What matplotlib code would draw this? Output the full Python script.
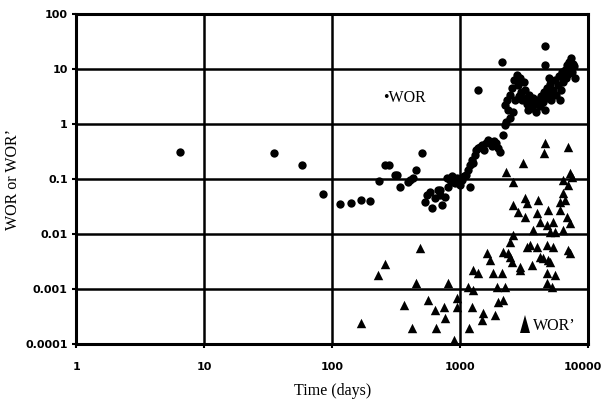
import matplotlib
matplotlib.use("Agg")
import matplotlib.pyplot as plt
import matplotlib.transforms as mtransforms
from matplotlib.markers import MarkerStyle
from matplotlib.ticker import FixedLocator, FixedFormatter, NullLocator

# WOR (circles)
wor_t = [6.5, 35, 58, 85, 115, 141, 169, 198,
         260, 280, 233, 310, 322, 340, 392, 407, 429, 450, 505,
         533, 552, 583, 604, 638, 673, 698, 698, 723, 763, 806, 882,
         791, 835, 866, 914, 948, 1000, 1037, 1075, 1114, 1155, 1197, 1197,
         1241, 1264, 1310, 1334, 1383, 1433, 1486, 1540, 1597, 1655, 1716,
         1778, 1843, 1911, 1981, 2054, 2168, 2247,
         4614, 2129, 4614, 4959, 1383, 2288, 2458,
         2247, 2329, 2371, 2458, 2548, 2641, 2689, 2787, 2838, 2942, 2995,
         3049, 3162, 3219, 3277, 3337, 3459, 3522, 3652, 3718, 3854, 3924,
         4068, 4217, 4294, 4451, 4532, 4698, 4783, 4959, 5049, 5140, 5329,
         5524, 5623, 5829, 5935, 6152, 6264, 6378, 6611, 6732, 6854, 6978,
         7105, 7234, 7365, 7499, 7635, 7774, 7915,
         2594, 2889, 3397, 4614, 6043]
wor_v = [0.31, 0.3, 0.18, 0.054, 0.035, 0.037, 0.042, 0.039,
         0.18, 0.18, 0.092, 0.12, 0.118, 0.072, 0.09, 0.096, 0.104, 0.146, 0.3,
         0.038, 0.051, 0.058, 0.03, 0.045, 0.063, 0.051, 0.063, 0.034, 0.047, 0.072, 0.088,
         0.104, 0.096, 0.113, 0.0845, 0.104, 0.078, 0.096, 0.113, 0.118, 0.146, 0.18, 0.0716,
         0.22, 0.195, 0.273, 0.337, 0.366, 0.38, 0.415, 0.337, 0.45, 0.51, 0.45,
         0.40, 0.49, 0.45, 0.366, 0.31, 0.63, 0.96,
         26.2, 13.4, 11.8, 6.9, 4.15, 1.09, 1.29,
         2.21, 2.73, 1.80, 3.37, 4.52, 6.3, 2.73, 7.8, 5.12, 6.86, 3.82,
         2.73, 5.8, 4.15, 2.97, 2.31, 3.37, 2.51, 1.95, 2.97, 2.31, 1.65,
         2.73, 2.12, 3.23, 2.51, 3.82, 2.97, 4.52, 3.51, 5.33, 2.73, 4.15,
         6.3, 3.37, 5.12, 7.46, 4.15, 8.8, 5.8, 9.6, 6.86, 11.8, 8.1,
         13.4, 10.4, 15.8, 8.8, 12.3, 11.3, 6.86,
         1.65, 3.23, 1.80, 1.80, 2.73]

# WOR' (triangles)
worp_t = [169, 229, 260, 365, 422, 453, 487, 563, 640, 650, 740, 760, 806, 898, 948, 948,
          1155, 1175, 1241, 1264, 1264, 1383, 1486, 1513, 1626, 1716, 1811, 1877, 1946,
          1981, 2129, 2168, 2247, 2371, 2548, 2942, 3522, 4451, 5049, 5524, 7234,
          4783, 4783, 5234,
          4614, 4532, 3105, 2288, 6978,
          7234, 6378, 2594, 7499, 6978, 6378, 6043, 6611, 6043, 6854, 7234, 6378,
          2594, 3219, 3337, 4068, 2838, 3219, 3995, 4870, 4217, 4783, 5329, 3718,
          5049, 5524,
          2594, 2458, 3337, 3995, 4783, 5329, 6978, 2168, 2458, 4217, 4870, 3652, 2942]
worp_v = [0.00024, 0.0018, 0.00285, 0.00051, 0.000195, 0.00129, 0.0056, 0.00063,
          0.000415, 0.000195, 0.00047, 0.000297, 0.00129, 0.000118, 0.00047, 0.00069,
          0.00109, 0.000195, 0.00047, 0.0022, 0.00096, 0.00195, 0.000273, 0.000366,
          0.0045, 0.00337, 0.00195, 0.000337, 0.00109,
          0.00058, 0.00195, 0.00063, 0.00109, 0.0045, 0.0031, 0.0022, 0.0063, 0.00366,
          0.0031, 0.0018, 0.0045,
          0.00195, 0.00129, 0.00109,
          0.45, 0.297, 0.195, 0.134, 0.38,
          0.128, 0.096, 0.088, 0.109, 0.078, 0.0556, 0.038, 0.0415, 0.0273, 0.0204, 0.0158, 0.0118,
          0.0337, 0.045, 0.0366, 0.0415, 0.0251, 0.0204, 0.024, 0.0273, 0.0165, 0.0146, 0.0165, 0.0118,
          0.0109, 0.0109,
          0.0096, 0.0072, 0.0058, 0.0058, 0.0063, 0.0058, 0.0051, 0.0047, 0.0038, 0.0038,
          0.00337, 0.00273, 0.0025]

x_ticks = [1, 10, 100, 1000, 10000]
x_labels = ["1", "10", "100", "1000", "10000"]
y_ticks = [0.0001, 0.001, 0.01, 0.1, 1, 10, 100]
y_labels = ["0.0001", "0.001", "0.01", "0.1", "1", "10", "100"]

fig = plt.figure(figsize=(6.04, 4.05), dpi=100)
ax = fig.add_axes([0.126, 0.151, 0.848, 0.814])
ax.set_xscale("log")
ax.set_yscale("log")
ax.set_xlim(1, 10000)
ax.set_ylim(0.0001, 100)

ax.xaxis.set_major_locator(FixedLocator(x_ticks))
ax.xaxis.set_major_formatter(FixedFormatter(x_labels))
ax.yaxis.set_major_locator(FixedLocator(y_ticks))
ax.yaxis.set_major_formatter(FixedFormatter(y_labels))
ax.xaxis.set_minor_locator(NullLocator())
ax.yaxis.set_minor_locator(NullLocator())

ax.grid(True, color="black", linewidth=1.8)
ax.set_axisbelow(True)
for s in ax.spines.values():
    s.set_linewidth(2.2)
    s.set_color("black")

ax.tick_params(axis="both", which="major", length=3, width=1.5, color="black",
               labelsize=8)
ax.tick_params(axis="x", pad=10)
ax.tick_params(axis="y", pad=3)
for lab in ax.get_xticklabels() + ax.get_yticklabels():
    lab.set_fontweight("heavy")
    lab.set_family("DejaVu Sans")
# keep the last x label inside the canvas
last = ax.get_xticklabels()[-1]
last.set_transform(last.get_transform() +
                   mtransforms.ScaledTranslation(-5 / 100, 0, fig.dpi_scale_trans))

ax.scatter(wor_t, wor_v, s=36, marker="o", color="black", linewidths=0, zorder=3)
ax.scatter(worp_t, worp_v, s=46, marker="^", color="black", linewidths=0, zorder=3)

serif = ["Liberation Serif", "DejaVu Serif"]
ax.text(250, 3.0, "\u2022WOR", family=serif, fontsize=11.5, va="center", ha="left")
tall_tri = MarkerStyle("^", transform=mtransforms.Affine2D().scale(0.7, 1.15))
ax.plot([3220], [0.00023], linestyle="none", marker=tall_tri, markersize=11,
        color="black", markeredgewidth=0, zorder=3)
ax.text(3718, 0.00021, "WOR\u2019", family=serif, fontsize=11.5, va="center", ha="left")

ax.set_xlabel("Time (days)", family=serif, fontsize=11.5, labelpad=8)
ax.set_ylabel("WOR or WOR\u2019", family=serif, fontsize=11.5)
ax.yaxis.set_label_coords(-0.108, 0.5)

fig.savefig("out.png", dpi=100)
